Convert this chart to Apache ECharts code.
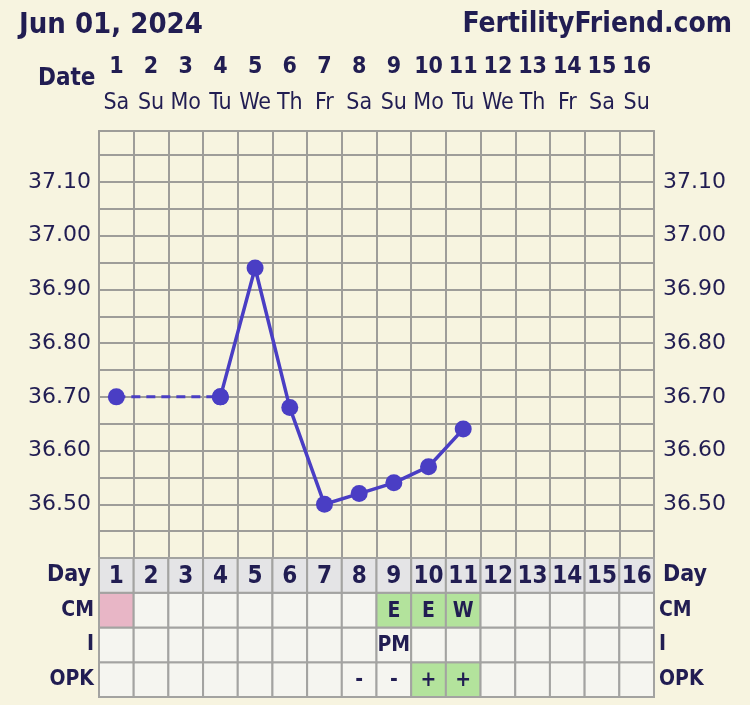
<!DOCTYPE html>
<html>
<head>
<meta charset="utf-8">
<script src="https://cdn.jsdelivr.net/npm/echarts@6/dist/echarts.min.js"></script>
<style>
html,body{margin:0;padding:0;background:#f7f4e0;}
#c{width:750px;height:705px;}
</style>
</head>
<body>
<div id="c"></div>
<script>
// ---- data ----
const chartDate = 'Jun 01, 2024';
const siteName = 'FertilityFriend.com';
const dates = ['1','2','3','4','5','6','7','8','9','10','11','12','13','14','15','16'];
const weekdays = ['Sa','Su','Mo','Tu','We','Th','Fr','Sa','Su','Mo','Tu','We','Th','Fr','Sa','Su'];
const cycleDays = ['1','2','3','4','5','6','7','8','9','10','11','12','13','14','15','16'];
const temps = [36.70, null, null, 36.70, 36.94, 36.68, 36.50, 36.52, 36.54, 36.57, 36.64, null, null, null, null, null];
const lastDashedIndex = 3; // days 1..4 are joined by a dashed (gap) line
const tempTickLabels = ['36.50','36.60','36.70','36.80','36.90','37.00','37.10'];
const tableRows = ['OPK','I','CM','Day']; // bottom to top
const cmText = ['','','','','','','','','E','E','W','','','','',''];
const cmMark = ['period','','','','','','','','fertile','fertile','fertile','','','','',''];
const iText = ['','','','','','','','','PM','','','','','','',''];
const opkText = ['','','','','','','','-','-','+','+','','','','',''];
const opkMark = ['','','','','','','','','','fertile','fertile','','','','',''];

// ---- styles ----
const BG = '#f7f4e0';
const INK = '#211d52';
const GRID = '#9e9d99';
const LINE = '#4a3ec4';
const BOLD = "'DejaVu Sans Condensed', 'DejaVu Sans', sans-serif";
const PLAIN = "'DejaVu Sans', Verdana, sans-serif";
const markColor = { period: '#e8b6c6', fertile: '#b3e39c', '': '#f5f5f0' };

const dashed = temps.map((v, i) => (i <= lastDashedIndex ? v : null));
const solid = temps.map((v, i) => (i >= lastDashedIndex ? v : null));

const tableData = [];
for (let r = 0; r < tableRows.length; r++) {
  for (let c = 0; c < cycleDays.length; c++) tableData.push([c, r]);
}
function cellInfo(c, r) {
  const row = tableRows[r];
  if (row === 'Day') return { text: cycleDays[c], fill: '#e4e4e6', day: true };
  if (row === 'CM') return { text: cmText[c], fill: markColor[cmMark[c]] };
  if (row === 'I') return { text: iText[c], fill: markColor[''] };
  return { text: opkText[c], fill: markColor[opkMark[c]] };
}

const yLabelFmt = v => {
  const s = Number(v).toFixed(2);
  return tempTickLabels.indexOf(s) >= 0 ? s : '';
};
const rowLabelFmt = v => (v === 'Day' ? '{d|' + v + '}' : '{r|' + v + '}');

const chart = echarts.init(document.getElementById('c'), null, { renderer: 'canvas' });
chart.setOption({
  backgroundColor: BG,
  animation: false,
  title: [
    { text: chartDate, left: 14, top: 6, textStyle: { fontFamily: BOLD, fontWeight: 'bold', fontSize: 29, color: INK } },
    { text: siteName, right: 13, top: 6, textStyle: { fontFamily: BOLD, fontWeight: 'bold', fontSize: 28, color: INK } },
    { text: 'Date', left: 33, top: 62, textStyle: { fontFamily: BOLD, fontWeight: 'bold', fontSize: 24, color: INK } }
  ],
  grid: [
    { left: 99, right: 96, top: 131, height: 427 },
    { left: 99, right: 96, top: 558, height: 139 }
  ],
  xAxis: [
    {
      gridIndex: 0, type: 'category', data: dates, position: 'top', boundaryGap: true,
      axisLine: { show: true, lineStyle: { color: GRID, width: 2 } },
      axisTick: { show: false },
      splitLine: { show: true, interval: 0, lineStyle: { color: GRID, width: 2 } },
      axisLabel: {
        interval: 0, margin: 10,
        formatter: (v, i) => '{n|' + v + '}\n{w|' + weekdays[i] + '}',
        rich: {
          n: { fontFamily: BOLD, fontWeight: 'bold', fontSize: 23, color: INK, lineHeight: 36 },
          w: { fontFamily: "'DejaVu Sans Condensed', sans-serif", fontSize: 23, color: INK, lineHeight: 36 }
        }
      }
    },
    {
      gridIndex: 1, type: 'category', data: cycleDays, boundaryGap: true,
      axisLine: { show: false }, axisTick: { show: false }, axisLabel: { show: false }, splitLine: { show: false }
    }
  ],
  yAxis: [
    {
      gridIndex: 0, type: 'value', min: 36.40, max: 37.195, interval: 0.05, position: 'left',
      axisLine: { show: true, lineStyle: { color: GRID, width: 2 } },
      axisTick: { show: false },
      splitLine: { show: true, lineStyle: { color: GRID, width: 2 } },
      axisLabel: { formatter: yLabelFmt, margin: 8, fontFamily: PLAIN, fontSize: 22, color: INK, showMinLabel: true, showMaxLabel: true }
    },
    {
      gridIndex: 0, type: 'value', min: 36.40, max: 37.195, interval: 0.05, position: 'right',
      axisLine: { show: true, lineStyle: { color: GRID, width: 2 } },
      axisTick: { show: false },
      splitLine: { show: false },
      axisLabel: { formatter: yLabelFmt, margin: 9, fontFamily: PLAIN, fontSize: 22, color: INK }
    },
    {
      gridIndex: 1, type: 'category', data: tableRows, position: 'left',
      axisLine: { show: false }, axisTick: { show: false }, splitLine: { show: false },
      axisLabel: {
        interval: 0, margin: 5, formatter: rowLabelFmt,
        rich: {
          d: { fontFamily: BOLD, fontWeight: 'bold', fontSize: 23, color: INK, padding: [0, 3, 0, 0] },
          r: { fontFamily: BOLD, fontWeight: 'bold', fontSize: 21, color: INK }
        }
      }
    },
    {
      gridIndex: 1, type: 'category', data: tableRows, position: 'right',
      axisLine: { show: false }, axisTick: { show: false }, splitLine: { show: false },
      axisLabel: {
        interval: 0, margin: 5, formatter: rowLabelFmt,
        rich: {
          d: { fontFamily: BOLD, fontWeight: 'bold', fontSize: 23, color: INK, padding: [0, 0, 0, 4] },
          r: { fontFamily: BOLD, fontWeight: 'bold', fontSize: 21, color: INK }
        }
      }
    }
  ],
  series: [
    {
      type: 'line', xAxisIndex: 0, yAxisIndex: 0, data: dashed, connectNulls: true,
      symbol: 'circle', symbolSize: 17, itemStyle: { color: LINE },
      lineStyle: { color: LINE, width: 3, type: [9, 6] }, z: 3
    },
    {
      type: 'line', xAxisIndex: 0, yAxisIndex: 0, data: solid, connectNulls: false,
      symbol: 'circle', symbolSize: 17, itemStyle: { color: LINE },
      lineStyle: { color: LINE, width: 3.5 }, z: 4
    },
    {
      type: 'custom', xAxisIndex: 1, yAxisIndex: 2, data: tableData,
      renderItem: (params, api) => {
        const c = api.value(0), r = api.value(1);
        const p = api.coord([c, r]);
        const s = api.size([1, 1]);
        const info = cellInfo(c, r);
        return {
          type: 'group',
          children: [
            { type: 'rect', shape: { x: p[0] - s[0] / 2, y: p[1] - s[1] / 2, width: s[0], height: s[1] },
              style: { fill: info.fill, stroke: '#a3a3a1', lineWidth: 2 } },
            { type: 'text', style: {
                text: info.text, x: p[0], y: p[1] + 1, align: 'center', verticalAlign: 'middle',
                fontFamily: BOLD, fontWeight: 'bold', fontSize: info.day ? 24 : 21, fill: INK } }
          ]
        };
      }
    }
  ]
});
</script>
</body>
</html>
